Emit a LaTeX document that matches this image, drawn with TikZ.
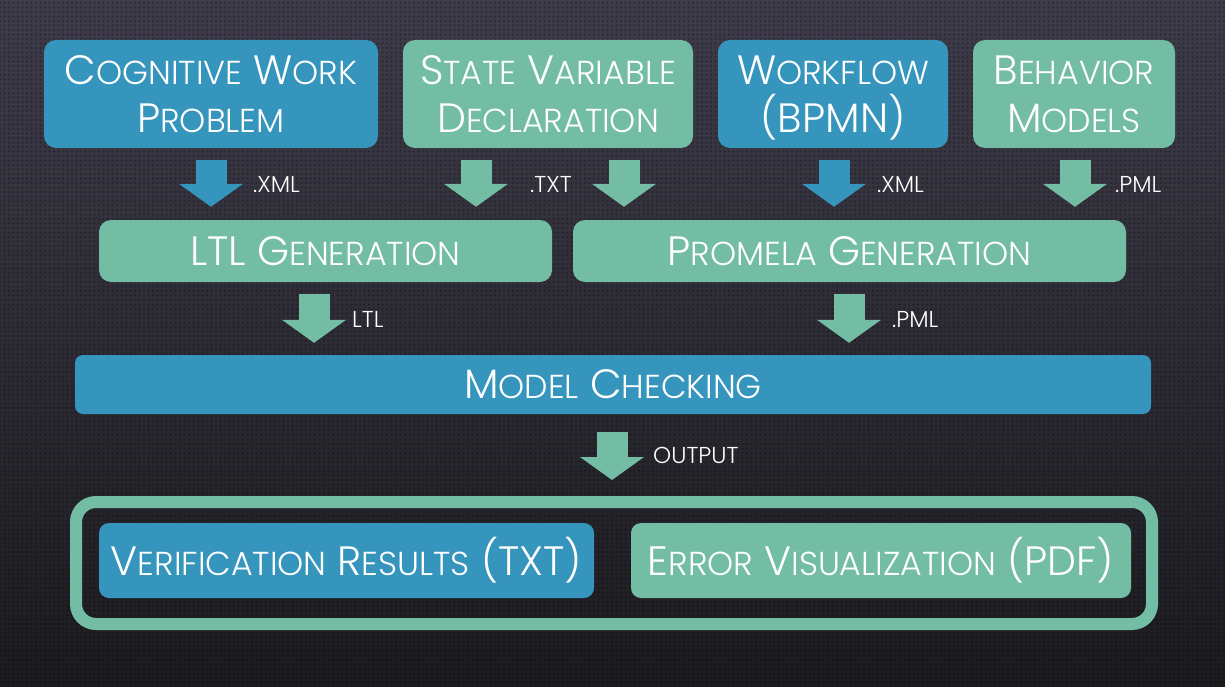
\documentclass[tikz,border=0pt]{standalone}
\usepackage{fontspec}
\IfFontExistsTF{Poppins Light}{\setmainfont{Poppins Light}}{\setmainfont{Poppins}}
\usepackage{graphicx}
\usetikzlibrary{calc}
\usetikzlibrary{arrows.meta}
\usetikzlibrary{patterns.meta}

\definecolor{bgtop}{RGB}{62,60,74}
\definecolor{bgbot}{RGB}{27,27,31}
\definecolor{boxblue}{RGB}{53,149,188}
\definecolor{boxgreen}{RGB}{116,189,165}

\newcommand{\scw}[2]{#1\scalebox{0.81}{#2}}

\tikzset{
  box/.style={rounded corners=12pt,inner sep=0pt,text=white,align=center,
    font=\fontsize{41}{48}\selectfont},
  bluebox/.style={box,fill=boxblue},
  greenbox/.style={box,fill=boxgreen},
  blockarrow/.style={line width=31pt,-{Triangle[width=63pt,length=23pt]}},
  lbl/.style={text=white,inner sep=0pt,anchor=base west,
    font=\fontsize{23}{26}\selectfont}
}

\begin{document}
\begin{tikzpicture}[x=1pt,y=-1pt]
    \shade[top color=bgtop,bottom color=bgbot] (0,0) rectangle (1225,687);
    \fill[pattern={Dots[distance=4.5pt,radius=1.1pt]},pattern color=black,opacity=.3]
      (0,0) rectangle (1225,687);
    \useasboundingbox (0,0) rectangle (1225,687);

    \node[bluebox,minimum width=334pt,minimum height=108pt] (cwp) at (211,94)
      {\scw{C}{OGNITIVE} \scw{W}{ORK}\\\scw{P}{ROBLEM}};
    \node[greenbox,minimum width=290pt,minimum height=108pt] (svd) at (548,94)
      {\scw{S}{TATE} \scw{V}{ARIABLE}\\\scw{D}{ECLARATION}};
    \node[bluebox,text depth=0pt,minimum width=230pt,minimum height=108pt] (wf) at (833,94)
      {\scw{W}{ORKFLOW}\\(BPMN)};
    \node[greenbox,minimum width=202pt,minimum height=108pt] (bm) at (1074,94)
      {\scw{B}{EHAVIOR}\\\scw{M}{ODELS}};

    \node[greenbox,minimum width=453pt,minimum height=62pt] (ltl) at (325.5,251)
      {LTL \scw{G}{ENERATION}};
    \node[greenbox,minimum width=553pt,minimum height=62pt] (prom) at (849.5,251)
      {\scw{P}{ROMELA} \scw{G}{ENERATION}};

    \node[bluebox,rounded corners=8pt,minimum width=1076pt,minimum height=59pt] (mc) at (613,384.5)
      {\scw{M}{ODEL} \scw{C}{HECKING}};

    \node[draw=boxgreen,line width=12pt,rounded corners=20pt,
      minimum width=1076pt,minimum height=122pt] (out) at (614,563) {};
    \node[bluebox,rounded corners=10pt,minimum width=495pt,minimum height=75pt] (vr) at (346.5,560.5)
      {\scw{V}{ERIFICATION} \scw{R}{ESULTS} (TXT)};
    \node[greenbox,rounded corners=10pt,minimum width=500pt,minimum height=75pt] (ev) at (881,560.5)
      {\scw{E}{RROR} \scw{V}{ISUALIZATION} (PDF)};

    \foreach \ax/\col/\src/\dst in {211/boxblue/cwp/ltl,476/boxgreen/svd/ltl,
      624/boxgreen/svd/prom,834/boxblue/wf/prom,1075/boxgreen/bm/prom} {
      \draw[blockarrow,draw=\col,shorten <=12pt,shorten >=13pt]
        (\ax,0 |- \src.south) -- (\ax,0 |- \dst.north);
    }
    \foreach \ax/\src/\dst/\ga/\gb in {314/ltl/mc/12/12,849/prom/mc/12/12,612/mc/out/18/16} {
      \draw[blockarrow,draw=boxgreen,shorten <=\ga pt,shorten >=\gb pt]
        (\ax,0 |- \src.south) -- (\ax,0 |- \dst.north);
    }

    \foreach \lx/\ly/\txt/\nm in {253/193/.XML/xmlA,530/193/.TXT/txtA,877/193/.XML/xmlB,
      1115/193/.PML/pmlA,352/327/LTL/ltlA,892/327/.PML/pmlB,653/463/OUTPUT/outA} {
      \node[lbl] (\nm) at (\lx,\ly) {\txt};
    }
  \end{tikzpicture}
\end{document}
